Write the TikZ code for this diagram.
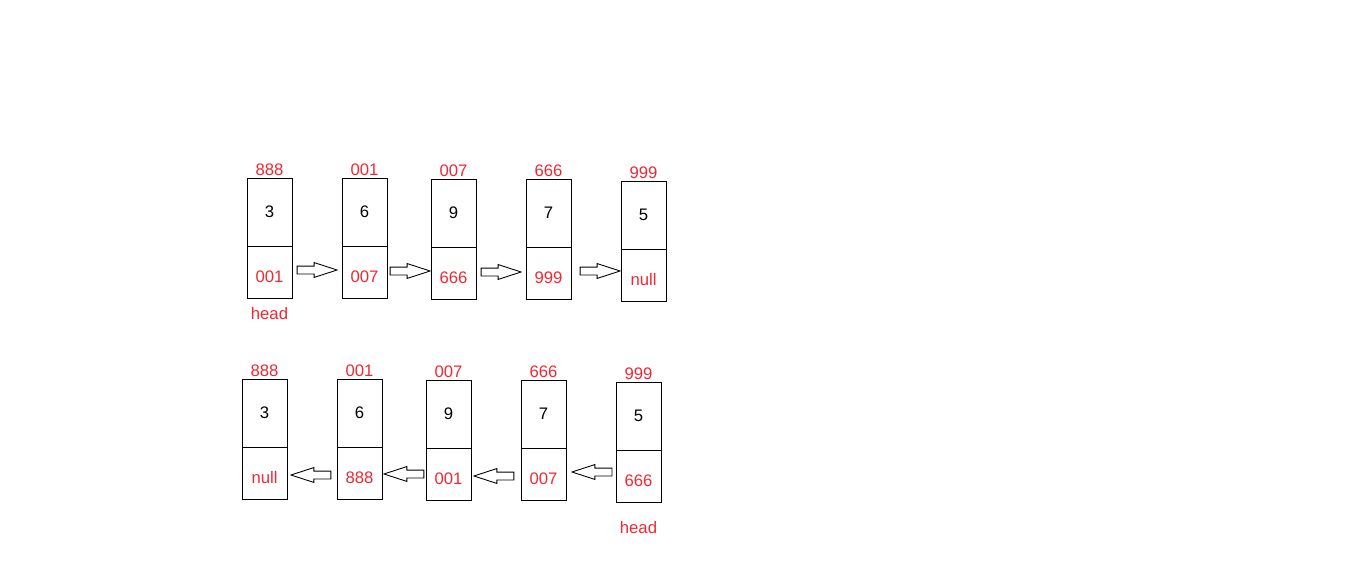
\documentclass[tikz,border=0pt]{standalone}
\usepackage{fontspec}
\setmainfont{Liberation Sans}
\usetikzlibrary{positioning,shapes.arrows}
\definecolor{addrRed}{RGB}{240,40,50}
\tikzset{
	cellFont/.style={font=\fontsize{9.5}{11}\selectfont},
	topCell/.style={rectangle, draw=black, line width=0.5pt, outer sep=0pt, inner sep=0pt, minimum width=0.9cm, minimum height=1.36cm, cellFont},
	botCell/.style={rectangle, draw=black, line width=0.5pt, outer sep=0pt, inner sep=0pt, minimum width=0.9cm, minimum height=1.04cm, text height=0.43cm, text depth=0cm, text=addrRed, cellFont},
	addr/.style={text=addrRed, inner sep=1pt, cellFont},
	pointer/.style={single arrow, draw=black, line width=0.5pt, inner xsep=0pt, inner ysep=0.07cm, minimum height=0.8cm, minimum width=0.28cm, single arrow head extend=0.07cm, single arrow tip angle=36}
}
\begin{document}
\begin{tikzpicture}[x=0.02cm, y=-0.02cm]
		\useasboundingbox (0,0) rectangle (1360,581);

		% first list: 888 -> 001 -> 007 -> 666 -> 999
		\node[topCell, label={[addr]above:888}](aOneTop) at (269.5,212){3};
		\node[botCell, below=0pt of aOneTop, label={[addr, label distance=4pt]below:head}](aOneBot){001};
		\node[topCell, label={[addr]above:001}](aTwoTop) at (364.5,212){6};
		\node[botCell, below=0pt of aTwoTop](aTwoBot){007};
		\node[topCell, label={[addr]above:007}](aThreeTop) at (453.5,213){9};
		\node[botCell, below=0pt of aThreeTop](aThreeBot){666};
		\node[topCell, label={[addr]above:666}](aFourTop) at (548.5,213){7};
		\node[botCell, below=0pt of aFourTop](aFourBot){999};
		\node[topCell, label={[addr]above:999}](aFiveTop) at (643.5,215){5};
		\node[botCell, below=0pt of aFiveTop](aFiveBot){null};

		% second list: reversed, 999 -> 666 -> 007 -> 001 -> 888
		\node[topCell, label={[addr]above:888}](bOneTop) at (264.5,413){3};
		\node[botCell, below=0pt of bOneTop](bOneBot){null};
		\node[topCell, label={[addr]above:001}](bTwoTop) at (359.5,413){6};
		\node[botCell, below=0pt of bTwoTop](bTwoBot){888};
		\node[topCell, label={[addr]above:007}](bThreeTop) at (448.5,414){9};
		\node[botCell, below=0pt of bThreeTop](bThreeBot){001};
		\node[topCell, label={[addr]above:666}](bFourTop) at (543.5,414){7};
		\node[botCell, below=0pt of bFourTop](bFourBot){007};
		\node[topCell, label={[addr]above:999}](bFiveTop) at (638.5,416){5};
		\node[botCell, below=0pt of bFiveTop, label={[addr, label distance=10pt]below:head}](bFiveBot){666};

		% draw next pointers
		\node[pointer](aOneNext) at (311,270){};
		\node[pointer](aTwoNext) at (404,271){};
		\node[pointer](aThreeNext) at (495,272){};
		\node[pointer](aFourNext) at (594,271){};

		% draw reversed pointers
		\node[pointer, shape border rotate=180](bTwoNext) at (317,475){};
		\node[pointer, shape border rotate=180](bThreeNext) at (410,474){};
		\node[pointer, shape border rotate=180](bFourNext) at (500,476){};
		\node[pointer, shape border rotate=180](bFiveNext) at (598,472){};

	\end{tikzpicture}
\end{document}
